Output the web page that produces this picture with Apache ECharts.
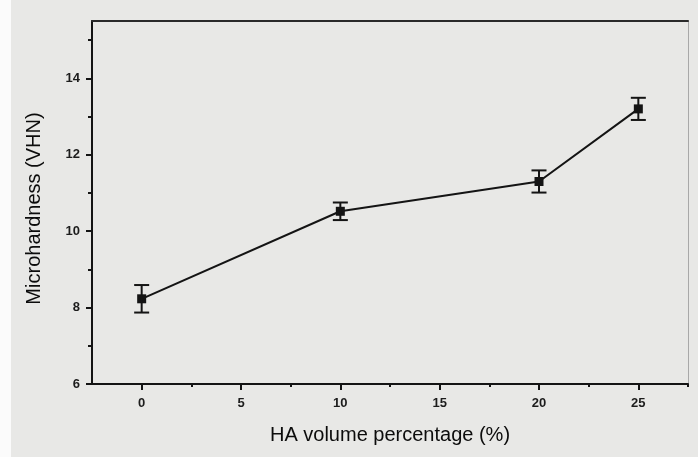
<!DOCTYPE html>
<html>
<head>
<meta charset="utf-8">
<script src="https://cdn.jsdelivr.net/npm/echarts@6/dist/echarts.min.js"></script>
<style>
  html, body { margin: 0; padding: 0; background: #ffffff; }
  #wrap { position: absolute; left: 0; top: 0; width: 698px; height: 457px; background: #ffffff; }
  #chart { position: absolute; left: 0; top: 0; width: 698px; height: 457px; }
</style>
</head>
<body>
<div id="wrap"><div id="chart"></div></div>
<script>
// HA volume fraction (%) and measured Vickers microhardness
const haPercent = [0, 10, 20, 25];
const hardness = [8.23, 10.52, 11.3, 13.2];
const hardnessErr = [0.36, 0.23, 0.29, 0.29];

const xMajorTicks = [0, 5, 10, 15, 20, 25];
const xMinorTicks = [2.5, 7.5, 12.5, 17.5, 22.5, 27.5];
const yMajorTicks = [6, 8, 10, 12, 14];
const yMinorTicks = [7, 9, 11, 13, 15];

const ink = '#141414';
const textFont = '"Liberation Sans", Arial, sans-serif';

const chart = echarts.init(document.getElementById('chart'), null, { renderer: 'canvas' });

const points = haPercent.map((x, i) => [x, hardness[i]]);
const bars = haPercent.map((x, i) => [x, hardness[i] - hardnessErr[i], hardness[i] + hardnessErr[i]]);

const xRange = { min: -2.5, max: 27.5 };
const yRange = { min: 6, max: 15.5 };

chart.setOption({
  backgroundColor: '#e8e8e6',
  animation: false,
  graphic: [
    { type: 'rect', left: 0, top: 0, shape: { width: 11, height: 457 }, style: { fill: '#fbfbfb' }, z: -10 }
  ],
  grid: { left: 92, right: 10, top: 21, bottom: 73 },
  xAxis: [
    {
      type: 'value', ...xRange, position: 'bottom',
      name: 'HA volume percentage (%)', nameLocation: 'middle', nameGap: 41,
      nameTextStyle: { fontFamily: textFont, fontSize: 20, color: '#0c0c0c' },
      axisLine: { onZero: false, lineStyle: { color: ink, width: 2 } },
      axisTick: { show: true, inside: false, length: 6, customValues: xMajorTicks, lineStyle: { color: ink, width: 2 } },
      axisLabel: { customValues: xMajorTicks, margin: 13, fontFamily: textFont, fontSize: 13, fontWeight: 'bold', color: '#1c1c1c' },
      splitLine: { show: false }
    },
    {
      type: 'value', ...xRange, position: 'bottom',
      axisLine: { show: false, onZero: false },
      axisTick: { show: true, length: 3, customValues: xMinorTicks, lineStyle: { color: ink, width: 2 } },
      axisLabel: { show: false },
      splitLine: { show: false }
    },
    {
      type: 'value', ...xRange, position: 'top',
      axisLine: { show: true, onZero: false, lineStyle: { color: '#2a2a2a', width: 2 } },
      axisTick: { show: false }, axisLabel: { show: false }, splitLine: { show: false }
    }
  ],
  yAxis: [
    {
      type: 'value', ...yRange, position: 'left',
      name: 'Microhardness (VHN)', nameLocation: 'middle', nameGap: 48, nameRotate: 90,
      nameTextStyle: { fontFamily: textFont, fontSize: 20, color: '#0c0c0c', padding: [0, 12, 0, 0] },
      axisLine: { show: true, onZero: false, lineStyle: { color: ink, width: 2 } },
      axisTick: { show: true, length: 6, customValues: yMajorTicks, lineStyle: { color: ink, width: 2 } },
      axisLabel: { customValues: yMajorTicks, margin: 12, fontFamily: textFont, fontSize: 13, fontWeight: 'bold', color: '#1c1c1c' },
      splitLine: { show: false }
    },
    {
      type: 'value', ...yRange, position: 'left',
      axisLine: { show: false, onZero: false },
      axisTick: { show: true, length: 4, customValues: yMinorTicks, lineStyle: { color: ink, width: 2 } },
      axisLabel: { show: false }, splitLine: { show: false }
    },
    {
      type: 'value', ...yRange, position: 'right',
      axisLine: { show: true, onZero: false, lineStyle: { color: '#a8a8a8', width: 1 } },
      axisTick: { show: false }, axisLabel: { show: false }, splitLine: { show: false }
    }
  ],
  series: [
    {
      type: 'line',
      xAxisIndex: 0, yAxisIndex: 0,
      data: points,
      symbol: 'rect', symbolSize: 9,
      lineStyle: { color: ink, width: 2 },
      itemStyle: { color: ink },
      z: 3
    },
    {
      type: 'custom',
      xAxisIndex: 0, yAxisIndex: 0,
      data: bars,
      renderItem: function (params, api) {
        const x = api.value(0);
        const lo = api.coord([x, api.value(1)]);
        const hi = api.coord([x, api.value(2)]);
        const half = 7.5;
        const style = { stroke: ink, lineWidth: 2 };
        return {
          type: 'group',
          children: [
            { type: 'line', shape: { x1: lo[0], y1: lo[1], x2: hi[0], y2: hi[1] }, style },
            { type: 'line', shape: { x1: hi[0] - half, y1: hi[1], x2: hi[0] + half, y2: hi[1] }, style },
            { type: 'line', shape: { x1: lo[0] - half, y1: lo[1], x2: lo[0] + half, y2: lo[1] }, style }
          ]
        };
      },
      z: 4
    }
  ]
});
</script>
</body>
</html>
